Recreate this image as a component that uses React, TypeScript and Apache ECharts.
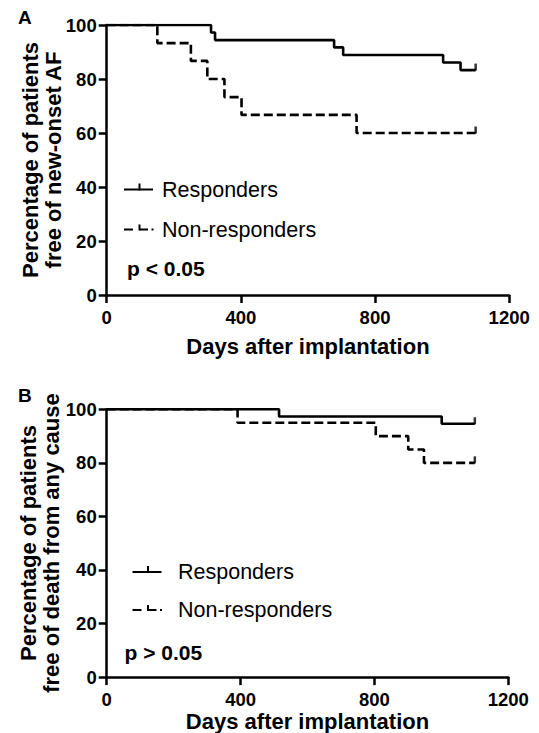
import React, { useEffect, useRef } from "react";
import * as echarts from "echarts";

// Panel A: freedom from new-onset AF
const aRespDays = [0, 311, 323, 678, 705, 1003, 1055, 1100];
const aRespSurv = [100, 97.2, 94.4, 91.7, 88.9, 86.1, 83.3, 83.3];
const aNonDays = [0, 151, 251, 300, 351, 402, 745, 1100];
const aNonSurv = [100, 93.3, 86.7, 80, 73.3, 66.7, 60, 60];

// Panel B: freedom from death from any cause
const bRespDays = [0, 515, 1001, 1100];
const bRespSurv = [100, 97.3, 94.6, 94.6];
const bNonDays = [0, 391, 804, 901, 948, 1100];
const bNonSurv = [100, 95, 90, 85, 80, 80];

const xTicks = [0, 400, 800, 1200];
const yTicks = [0, 20, 40, 60, 80, 100];

const seriesNames = ["Responders", "Non-responders"];
const pValues = ["p < 0.05", "p > 0.05"];
const yTitles = [
  "Percentage of patients\nfree of new-onset AF",
  "Percentage of patients\nfree of death from any cause",
];
const xTitle = "Days after implantation";

const FONT = '"Liberation Sans", Arial, Helvetica, sans-serif';

const zip = (d: number[], s: number[]) => d.map((x, i) => [x, s[i]]);
const last = (d: number[], s: number[]) => [[d[d.length - 1], s[s.length - 1]]];

export default function App() {
  const ref = useRef<HTMLDivElement>(null);
  useEffect(() => {
    if (!ref.current) return;
    const chart = echarts.init(ref.current, null, { renderer: "svg" });

    const axisLineStyle = { color: "#000", width: 2.5 };
    const mkX = (gridIndex: number, nameGap: number) => ({
      type: "value",
      gridIndex,
      min: xTicks[0],
      max: xTicks[xTicks.length - 1],
      interval: xTicks[1] - xTicks[0],
      axisLine: { show: true, lineStyle: axisLineStyle },
      axisTick: { show: true, length: 8, lineStyle: axisLineStyle },
      splitLine: { show: false },
      axisLabel: {
        color: "#000",
        fontSize: 18.5,
        fontWeight: "bold",
        fontFamily: FONT,
        margin: 13,
        formatter: (v: number) => String(v),
      },
      name: xTitle,
      nameLocation: "middle",
      nameGap,
      nameTextStyle: { color: "#000", fontSize: 22, fontWeight: "bold", fontFamily: FONT },
    });
    const mkY = (gridIndex: number) => ({
      type: "value",
      gridIndex,
      min: yTicks[0],
      max: yTicks[yTicks.length - 1],
      interval: yTicks[1] - yTicks[0],
      axisLine: { show: true, lineStyle: axisLineStyle },
      axisTick: { show: true, length: 8, lineStyle: axisLineStyle },
      splitLine: { show: false },
      axisLabel: {
        color: "#000",
        fontSize: 18.5,
        fontWeight: "bold",
        fontFamily: FONT,
        margin: 10,
        formatter: (v: number) => String(v),
      },
    });

    const solid = { color: "#000", width: 2.6, type: "solid" };
    const dashed = { color: "#000", width: 2.6, type: [9, 4] };
    const lineSeries = (name: string, data: number[][], idx: number, ls: any) => ({
      name,
      type: "line",
      step: "end",
      xAxisIndex: idx,
      yAxisIndex: idx,
      data,
      showSymbol: false,
      symbol: "none",
      lineStyle: ls,
      silent: true,
    });
    const tickSeries = (data: number[][], idx: number) => ({
      type: "scatter",
      xAxisIndex: idx,
      yAxisIndex: idx,
      data,
      symbol: "rect",
      symbolSize: [2.5, 7],
      symbolOffset: [0, -3],
      itemStyle: { color: "#000" },
      silent: true,
    });

    const ln = (x1: number, y1: number, x2: number, y2: number) => ({
      type: "line",
      shape: { x1, y1, x2, y2 },
      style: { stroke: "#000", lineWidth: 2 },
      silent: true,
    });
    const txt = (x: number, y: number, text: string, bold: boolean, size: number) => ({
      type: "text",
      x,
      y,
      style: {
        text,
        fill: "#000",
        fontSize: size,
        fontWeight: bold ? "bold" : "normal",
        fontFamily: FONT,
        align: "left",
        verticalAlign: "middle",
      },
      silent: true,
    });
    const ytitle = (x: number, y: number, text: string) => ({
      type: "text",
      x,
      y,
      rotation: Math.PI / 2,
      style: {
        text,
        fill: "#000",
        fontSize: 22,
        fontWeight: "bold",
        fontFamily: FONT,
        lineHeight: 23,
        align: "center",
        verticalAlign: "middle",
      },
      silent: true,
    });

    const legend = (lx: number, tx: number, y1: number, y2: number) => [
      ln(lx, y1, lx + 29, y1),
      ln(lx + 15.5, y1 - 6, lx + 15.5, y1 + 1),
      txt(tx, y1, seriesNames[0], false, 21.5),
      ln(lx, y2, lx + 9, y2),
      ln(lx + 15.5, y2 - 5, lx + 15.5, y2 + 1),
      ln(lx + 15.5, y2, lx + 24, y2),
      ln(lx + 27.5, y2, lx + 29.5, y2),
      txt(tx, y2, seriesNames[1], false, 21.5),
    ];

    chart.setOption({
      animation: false,
      grid: [
        { left: 106.7, top: 25, width: 402.5, height: 270 },
        { left: 106.7, top: 409.3, width: 401.6, height: 268 },
      ],
      xAxis: [mkX(0, 40), mkX(1, 31)],
      yAxis: [mkY(0), mkY(1)],
      series: [
        lineSeries(seriesNames[0], zip(aRespDays, aRespSurv), 0, solid),
        lineSeries(seriesNames[1], zip(aNonDays, aNonSurv), 0, dashed),
        tickSeries(last(aRespDays, aRespSurv), 0),
        tickSeries(last(aNonDays, aNonSurv), 0),
        lineSeries(seriesNames[0], zip(bRespDays, bRespSurv), 1, solid),
        lineSeries(seriesNames[1], zip(bNonDays, bNonSurv), 1, dashed),
        tickSeries(last(bRespDays, bRespSurv), 1),
        tickSeries(last(bNonDays, bNonSurv), 1),
      ],
      graphic: [
        txt(18, 17, "A", true, 19),
        txt(18, 395, "B", true, 19),
        ytitle(42, 160, yTitles[0]),
        ytitle(40, 543, yTitles[1]),
        ...legend(124, 162, 189.5, 229.5),
        txt(127, 268.5, pValues[0], true, 21),
        ...legend(132.5, 178, 572, 610),
        txt(124.5, 652, pValues[1], true, 21),
      ],
    });
    return () => chart.dispose();
  }, []);
  return (
    <div
      ref={ref}
      style={{ position: "fixed", left: 0, top: 0, width: 539, height: 733, background: "#fff" }}
    />
  );
}
